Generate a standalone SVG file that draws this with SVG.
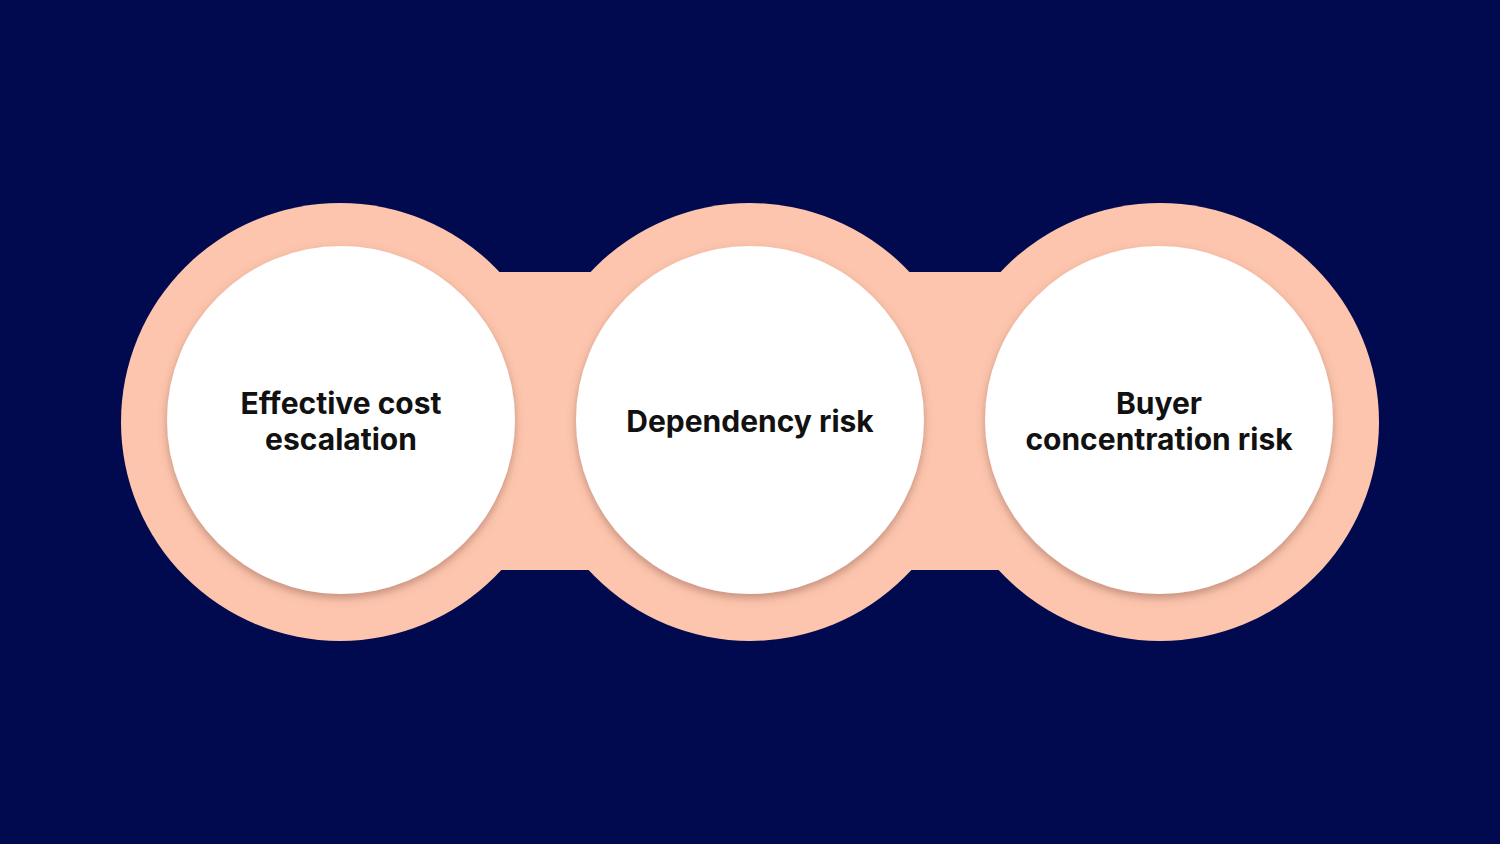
<svg xmlns="http://www.w3.org/2000/svg" width="1500" height="844" viewBox="0 0 1500 844">
<defs>
<style>
.p{fill:#FDC5AD}.n{fill:#020A4F}.w{fill:#fff;filter:url(#sh)}
.t{font-family:Inter,"Open Sans",sans-serif;font-weight:700;font-size:30px;fill:#111;text-anchor:middle}
</style>
<filter id="sh" x="-20%" y="-20%" width="140%" height="140%"><feDropShadow dx="0" dy="4" stdDeviation="4" flood-color="#8a5a48" flood-opacity="0.5"/></filter>
</defs>
<rect width="1500" height="844" class="n"/>
<g id="band">
<rect x="340" y="272" width="820" height="298" class="p"/>
<circle cx="545" cy="156" r="116" class="n"/><circle cx="545" cy="686" r="116" class="n"/>
<circle cx="955" cy="156" r="116" class="n"/><circle cx="955" cy="686" r="116" class="n"/>
<circle cx="340" cy="422" r="219" class="p"/><circle cx="750" cy="422" r="219" class="p"/><circle cx="1160" cy="422" r="219" class="p"/>
</g>
<g id="n1"><circle cx="341" cy="420" r="174" class="w"/><text class="t" x="341" y="414">Effective cost</text><text class="t" x="341" y="450">escalation</text></g>
<g id="n2"><circle cx="750" cy="420" r="174" class="w"/><text class="t" x="750" y="432">Dependency risk</text></g>
<g id="n3"><circle cx="1159" cy="420" r="174" class="w"/><text class="t" x="1159" y="414">Buyer</text><text class="t" x="1159" y="450">concentration risk</text></g>
<g id="connectors"/>
</svg>
